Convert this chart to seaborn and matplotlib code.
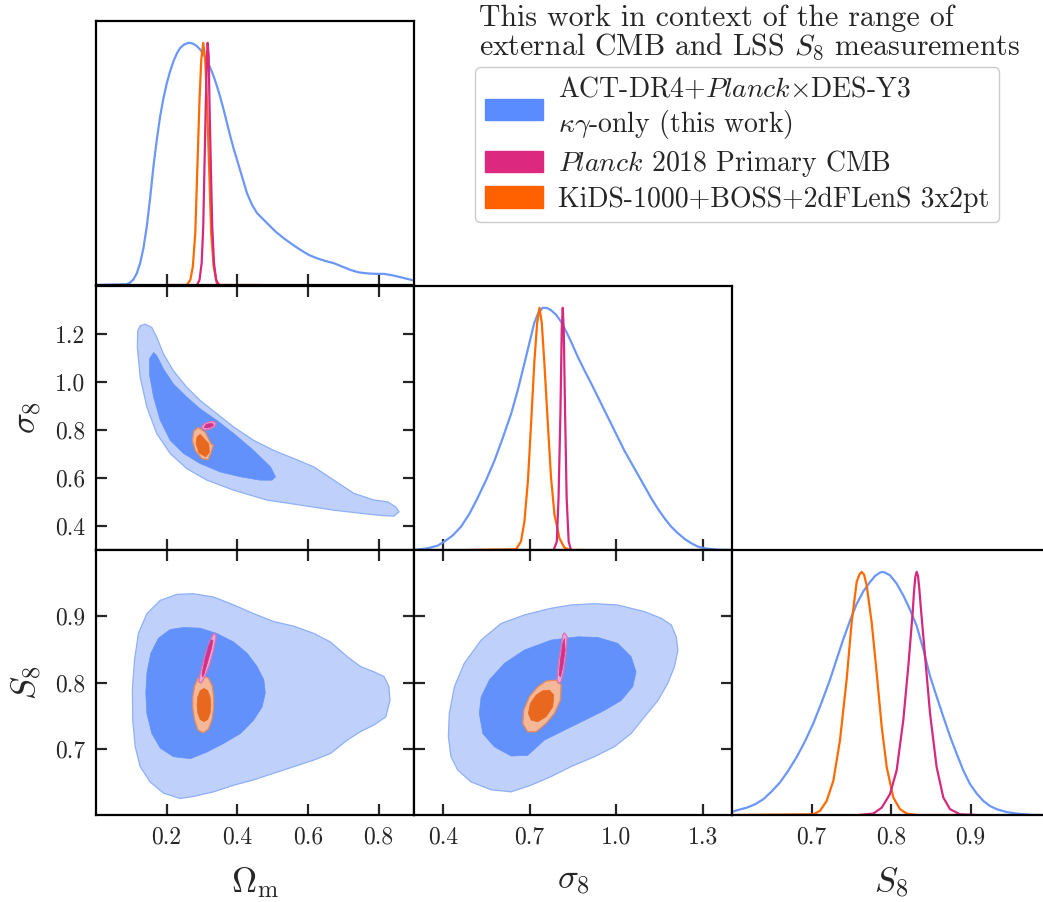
import numpy as np
import matplotlib
matplotlib.use("Agg")
import matplotlib.pyplot as plt
from matplotlib.patches import Patch
import seaborn as sns

# ---------------- 1D marginals (peak normalised to 1) ----------------
om_act_x = [0.0, 0.087, 0.0965, 0.1059, 0.1154, 0.1248, 0.1343, 0.1437, 0.1532, 0.1626, 0.1721,
            0.1816, 0.1910, 0.2005, 0.2099, 0.2194, 0.2288, 0.2383, 0.2496, 0.2619, 0.2742,
            0.2856, 0.2950, 0.3045, 0.3139, 0.3234, 0.3329, 0.3423, 0.3518, 0.3612, 0.3707,
            0.3801, 0.3896, 0.3991, 0.4132, 0.4274, 0.4416, 0.4558, 0.4700, 0.4842, 0.5078,
            0.5314, 0.5551, 0.5787, 0.6024, 0.6260, 0.6496, 0.6733, 0.6969, 0.7206, 0.7442,
            0.7678, 0.7915, 0.8151, 0.8388, 0.8624, 0.8813, 0.9031]
om_act_p = [0.0, 0.003, 0.01, 0.023, 0.048, 0.09, 0.152, 0.241, 0.359, 0.49, 0.6,
            0.697, 0.772, 0.834, 0.883, 0.924, 0.956, 0.979, 0.993, 1.0, 0.997,
            0.986, 0.972, 0.952, 0.927, 0.897, 0.862, 0.821, 0.775, 0.724, 0.669,
            0.614, 0.563, 0.517, 0.448, 0.379, 0.331, 0.297, 0.276, 0.255, 0.221,
            0.193, 0.168, 0.145, 0.124, 0.11, 0.099, 0.09, 0.076, 0.062, 0.052,
            0.048, 0.046, 0.046, 0.04, 0.032, 0.025, 0.018]
om_kids_x = [0.2, 0.257, 0.267, 0.274, 0.281, 0.287, 0.293, 0.298, 0.3035, 0.309, 0.314, 0.320,
             0.326, 0.333, 0.342, 0.352, 0.465]
om_kids_p = [0.0, 0.0, 0.021, 0.076, 0.214, 0.49, 0.766, 0.931, 1.0, 0.931, 0.766, 0.49,
             0.214, 0.076, 0.007, 0.0, 0.0]
om_planck_x = [0.286, 0.293, 0.299, 0.3035, 0.307, 0.311, 0.314, 0.316, 0.319, 0.321, 0.325,
               0.329, 0.334, 0.340, 0.348]
om_planck_p = [0.0, 0.021, 0.09, 0.241, 0.49, 0.766, 0.945, 1.0, 0.945, 0.766, 0.49,
               0.241, 0.09, 0.021, 0.0]

s8_act_x = [0.301, 0.347, 0.382, 0.405, 0.434, 0.463, 0.492, 0.520, 0.549, 0.578, 0.607, 0.636,
            0.659, 0.682, 0.699, 0.716, 0.730, 0.745, 0.760, 0.774, 0.791, 0.808, 0.826, 0.843,
            0.866, 0.889, 0.913, 0.936, 0.959, 0.982, 1.005, 1.028, 1.051, 1.074, 1.097, 1.120,
            1.143, 1.166, 1.189, 1.213, 1.236, 1.259, 1.282, 1.305, 1.351, 1.397]
s8_act_p = [0.0, 0.007, 0.018, 0.035, 0.06, 0.097, 0.15, 0.215, 0.2875, 0.368, 0.4625, 0.5625,
            0.66, 0.771, 0.854, 0.9375, 0.979, 1.0, 0.999, 0.99, 0.972, 0.944, 0.903, 0.861,
            0.799, 0.743, 0.6875, 0.632, 0.576, 0.521, 0.465, 0.41, 0.361, 0.3125, 0.264, 0.215,
            0.171, 0.132, 0.097, 0.069, 0.046, 0.028, 0.014, 0.007, 0.001, 0.0]
s8_kids_x = [0.48, 0.653, 0.670, 0.682, 0.694, 0.705, 0.716, 0.726, 0.734, 0.742, 0.751, 0.763,
             0.774, 0.786, 0.803, 0.820, 0.838, 0.889]
s8_kids_p = [0.0, 0.003, 0.035, 0.118, 0.285, 0.521, 0.771, 0.938, 1.0, 0.938, 0.771, 0.521,
             0.299, 0.146, 0.049, 0.01, 0.0, 0.0]
s8_planck_x = [0.783, 0.794, 0.800, 0.8065, 0.811, 0.8146, 0.818, 0.8227, 0.828, 0.835, 0.843]
s8_planck_p = [0.0, 0.035, 0.215, 0.563, 0.91, 1.0, 0.91, 0.563, 0.215, 0.035, 0.0]

S8_act_x = [0.6, 0.608, 0.6185, 0.629, 0.6394, 0.6499, 0.6604, 0.6709, 0.6813, 0.6918, 0.7023,
            0.7128, 0.7233, 0.7316, 0.7400, 0.7484, 0.7568, 0.7652, 0.7736, 0.7799, 0.7862,
            0.7893, 0.7925, 0.7987, 0.8071, 0.8155, 0.8239, 0.8323, 0.8407, 0.8491, 0.8574,
            0.8658, 0.8742, 0.8826, 0.891, 0.8994, 0.9077, 0.9161, 0.9245, 0.9329, 0.9455,
            0.9581, 0.9748, 0.9912]
S8_act_p = [0.013, 0.021, 0.030, 0.044, 0.065, 0.097, 0.134, 0.183, 0.238, 0.303, 0.377,
            0.464, 0.557, 0.64, 0.723, 0.799, 0.868, 0.92, 0.958, 0.983, 0.997,
            1.0, 0.997, 0.986, 0.952, 0.903, 0.845, 0.778, 0.681, 0.571, 0.4875,
            0.404, 0.324, 0.252, 0.183, 0.127, 0.089, 0.058, 0.037, 0.024, 0.012,
            0.006, 0.001, 0.0]
S8_kids_x = [0.6, 0.7023, 0.7107, 0.7191, 0.7275, 0.7358, 0.7442, 0.7505, 0.7568, 0.7602, 0.7631,
             0.7661, 0.7694, 0.7757, 0.7820, 0.7883, 0.7946, 0.8029, 0.8113, 0.8197, 0.8323, 0.891]
S8_kids_p = [0.0, 0.003, 0.017, 0.058, 0.141, 0.307, 0.557, 0.792, 0.958, 0.989, 1.0,
             0.989, 0.945, 0.792, 0.584, 0.363, 0.197, 0.072, 0.024, 0.006, 0.0, 0.0]
S8_planck_x = [0.7589, 0.7778, 0.7883, 0.7987, 0.8071, 0.8155, 0.8218, 0.8273, 0.8289, 0.8306,
               0.8323, 0.834, 0.8356, 0.8373, 0.8428, 0.8491, 0.8574, 0.8658, 0.8742, 0.8868, 0.9078]
S8_planck_p = [0.0, 0.006, 0.030, 0.086, 0.183, 0.391, 0.613, 0.834, 0.917, 0.979,
               1.0, 0.983, 0.931, 0.861, 0.654, 0.418, 0.197, 0.072, 0.024, 0.003, 0.0]

# ---------------- 2D credible regions (68% / 95% boundaries) ----------------
om_s8l_act_95 = [(0.139, 1.241), (0.158, 1.227), (0.172, 1.186), (0.191, 1.117), (0.219, 1.047),
                 (0.257, 0.978), (0.295, 0.923), (0.342, 0.868), (0.390, 0.812), (0.446, 0.757),
                 (0.503, 0.715), (0.560, 0.681), (0.617, 0.646), (0.673, 0.591), (0.730, 0.536),
                 (0.787, 0.508), (0.825, 0.501), (0.848, 0.480), (0.858, 0.459), (0.843, 0.441),
                 (0.806, 0.444), (0.749, 0.453), (0.673, 0.466), (0.579, 0.487), (0.484, 0.508),
                 (0.390, 0.549), (0.314, 0.591), (0.257, 0.639), (0.210, 0.702), (0.172, 0.785),
                 (0.144, 0.895), (0.125, 1.020), (0.117, 1.144), (0.118, 1.213), (0.125, 1.234)]
om_s8l_act_68 = [(0.163, 1.123), (0.172, 1.110), (0.191, 1.054), (0.219, 0.992), (0.257, 0.937),
                 (0.295, 0.888), (0.342, 0.840), (0.390, 0.785), (0.446, 0.715), (0.494, 0.646),
                 (0.508, 0.605), (0.498, 0.591), (0.465, 0.591), (0.409, 0.605), (0.352, 0.625),
                 (0.295, 0.660), (0.248, 0.702), (0.210, 0.757), (0.182, 0.840), (0.163, 0.937),
                 (0.151, 1.034), (0.151, 1.096)]
om_s8l_kids_95 = [(0.289, 0.810), (0.309, 0.791), (0.325, 0.743), (0.332, 0.736), (0.326, 0.708),
                  (0.317, 0.677), (0.300, 0.681), (0.281, 0.715), (0.273, 0.757), (0.277, 0.795)]
om_s8l_kids_68 = [(0.295, 0.782), (0.319, 0.743), (0.321, 0.708), (0.311, 0.688), (0.292, 0.704),
                  (0.283, 0.743), (0.286, 0.771)]
om_s8l_planck_95 = [(0.298, 0.810), (0.304, 0.823), (0.317, 0.833), (0.330, 0.836), (0.340, 0.829),
                    (0.336, 0.815), (0.323, 0.804), (0.309, 0.800)]
om_s8l_planck_68 = [(0.306, 0.812), (0.311, 0.822), (0.321, 0.827), (0.331, 0.826), (0.332, 0.819),
                    (0.324, 0.812), (0.314, 0.808)]

om_S8_act_95 = [(0.276, 0.934), (0.333, 0.929), (0.390, 0.917), (0.446, 0.904), (0.503, 0.892),
                (0.560, 0.885), (0.617, 0.874), (0.664, 0.861), (0.711, 0.839), (0.749, 0.824),
                (0.787, 0.816), (0.815, 0.809), (0.829, 0.794), (0.832, 0.773), (0.820, 0.748),
                (0.787, 0.736), (0.749, 0.726), (0.711, 0.713), (0.664, 0.693), (0.617, 0.683),
                (0.560, 0.673), (0.503, 0.663), (0.446, 0.653), (0.390, 0.645), (0.333, 0.635),
                (0.276, 0.628), (0.238, 0.625), (0.191, 0.633), (0.153, 0.650), (0.125, 0.673),
                (0.111, 0.703), (0.104, 0.743), (0.103, 0.789), (0.109, 0.834), (0.120, 0.874),
                (0.144, 0.904), (0.182, 0.924), (0.229, 0.933)]
om_S8_act_68 = [(0.248, 0.883), (0.295, 0.882), (0.342, 0.874), (0.390, 0.861), (0.428, 0.844),
                (0.456, 0.824), (0.475, 0.804), (0.479, 0.784), (0.470, 0.763), (0.446, 0.743),
                (0.409, 0.723), (0.361, 0.708), (0.314, 0.695), (0.267, 0.685), (0.219, 0.688),
                (0.182, 0.701), (0.158, 0.723), (0.144, 0.753), (0.141, 0.784), (0.144, 0.814),
                (0.155, 0.844), (0.177, 0.867), (0.210, 0.880)]
om_S8_kids_95 = [(0.3035, 0.8097), (0.318, 0.8066), (0.329, 0.7946), (0.333, 0.778), (0.333, 0.7614),
                 (0.328, 0.7435), (0.318, 0.7297), (0.3035, 0.7241), (0.289, 0.7282), (0.279, 0.7435),
                 (0.274, 0.7614), (0.274, 0.778), (0.279, 0.7946), (0.289, 0.8066)]
om_S8_kids_68 = [(0.3055, 0.791), (0.316, 0.7878), (0.323, 0.778), (0.325, 0.766), (0.323, 0.754),
                 (0.316, 0.744), (0.3055, 0.741), (0.295, 0.744), (0.288, 0.754), (0.286, 0.766),
                 (0.288, 0.778), (0.295, 0.7878)]
om_S8_planck_95 = [(0.336, 0.875), (0.340, 0.869), (0.333, 0.849), (0.321, 0.826), (0.306, 0.806),
                   (0.297, 0.799), (0.291, 0.801), (0.295, 0.814), (0.306, 0.836), (0.320, 0.859),
                   (0.330, 0.871)]
om_S8_planck_68 = [(0.331, 0.864), (0.327, 0.852), (0.316, 0.831), (0.306, 0.813), (0.302, 0.808),
                   (0.300, 0.813), (0.308, 0.834), (0.319, 0.855), (0.326, 0.864)]

s8_S8_act_95 = [(0.924, 0.919), (1.005, 0.917), (1.097, 0.907), (1.155, 0.897), (1.190, 0.887),
                (1.207, 0.869), (1.213, 0.849), (1.201, 0.824), (1.178, 0.799), (1.144, 0.773),
                (1.097, 0.748), (1.051, 0.723), (0.993, 0.703), (0.924, 0.688), (0.843, 0.673),
                (0.774, 0.658), (0.705, 0.645), (0.636, 0.635), (0.567, 0.638), (0.497, 0.650),
                (0.451, 0.668), (0.428, 0.688), (0.419, 0.718), (0.422, 0.753), (0.440, 0.794),
                (0.474, 0.829), (0.532, 0.864), (0.601, 0.889), (0.682, 0.902), (0.774, 0.912),
                (0.843, 0.917)]
s8_S8_act_68 = [(0.867, 0.869), (0.936, 0.868), (1.005, 0.859), (1.051, 0.839), (1.068, 0.816),
                (1.057, 0.794), (1.017, 0.773), (0.959, 0.758), (0.890, 0.743), (0.820, 0.728),
                (0.751, 0.713), (0.693, 0.690), (0.636, 0.689), (0.578, 0.703), (0.538, 0.723),
                (0.526, 0.753), (0.532, 0.778), (0.561, 0.804), (0.613, 0.829), (0.682, 0.849),
                (0.774, 0.864)]
s8_S8_kids_95 = [(0.7915, 0.8036), (0.8088, 0.7961), (0.8064, 0.7735), (0.7856, 0.7534),
                 (0.7569, 0.7383), (0.7223, 0.7256), (0.6936, 0.7256), (0.6763, 0.7383),
                 (0.6797, 0.7584), (0.6991, 0.7784), (0.7282, 0.7935), (0.7569, 0.8021)]
s8_S8_kids_68 = [(0.7683, 0.7885), (0.7836, 0.781), (0.7801, 0.7634), (0.7569, 0.7483),
                 (0.7282, 0.7407), (0.705, 0.7433), (0.6956, 0.7534), (0.7026, 0.7685),
                 (0.7223, 0.781), (0.7455, 0.7875)]
s8_S8_planck_95 = [(0.8203, 0.875), (0.8296, 0.8689), (0.8261, 0.8439), (0.8182, 0.8187),
                   (0.8088, 0.8011), (0.7995, 0.7986), (0.795, 0.8036), (0.7995, 0.8288),
                   (0.8088, 0.8538), (0.8147, 0.8715)]
s8_S8_planck_68 = [(0.8203, 0.8665), (0.8227, 0.8489), (0.8147, 0.8237), (0.8064, 0.8086),
                   (0.8019, 0.8112), (0.8064, 0.8338), (0.8147, 0.859)]

om_ticks = [0.2, 0.4, 0.6, 0.8]
s8_ticks = [0.4, 0.7, 1.0, 1.3]
s8_yticks = [0.4, 0.6, 0.8, 1.0, 1.2]
S8_ticks = [0.7, 0.8, 0.9]
om_lim = (0.0, 0.9)
s8_lim = (0.3, 1.4)
S8_lim = (0.6, 1.0)

labels = ["ACT-DR4+$\\mathit{Planck}$$\\times$DES-Y3\n$\\kappa\\gamma$-only (this work)",
          "$\\mathit{Planck}$ 2018 Primary CMB",
          "KiDS-1000+BOSS+2dFLenS 3x2pt"]

# ---------------- style ----------------
sns.set_theme(style="ticks")
plt.rcParams["font.family"] = ["cmr10", "DejaVu Serif"]
plt.rcParams["mathtext.fontset"] = "cm"
plt.rcParams["axes.formatter.use_mathtext"] = True
plt.rcParams["axes.unicode_minus"] = False

c_line = {"act": "#6b97f7", "planck": "#d6287f", "kids": "#ff6a00"}
c_fill = {"act": ("#bfd0fb", "#6391fb", "#8fb0f8"),
          "planck": ("#f0a6d2", "#d1308c", "#e070b0"),
          "kids": ("#f4b899", "#e8681f", "#ec8a55")}

W, H = 1043, 902
fig = plt.figure(figsize=(W / 100, H / 100), dpi=100)

col_x = [96, 414, 732]
row_y = [(21, 285), (286, 550), (550, 815)]
pw = 318


def make_ax(r, c):
    y0, y1 = row_y[r]
    return fig.add_axes([col_x[c] / W, 1 - y1 / H, pw / W, (y1 - y0) / H])


def style(ax, diag=False):
    for s in ax.spines.values():
        s.set_linewidth(1.6)
        s.set_color("black")
    if diag:
        ax.tick_params(axis="x", direction="in", length=8, width=1.6, top=False, bottom=True,
                       labelsize=17, pad=8)
        ax.tick_params(axis="y", left=False, right=False, labelleft=False)
        ax.set_ylim(0, 1.09)
    else:
        ax.tick_params(direction="in", length=8, width=1.6, top=True, bottom=True,
                       left=True, right=True, labelsize=17, pad=8)
    ax.set_xlabel("")
    ax.set_ylabel("")


def marg(ax, xs, ps, key):
    sns.lineplot(x=xs, y=ps, ax=ax, color=c_line[key], lw=1.6, estimator=None, sort=False)


def region(ax, pts95, pts68, key):
    light, dark, edge = c_fill[key]
    a = np.array(pts95)
    b = np.array(pts68)
    ax.fill(a[:, 0], a[:, 1], facecolor=light, edgecolor=edge, lw=0.9)
    ax.fill(b[:, 0], b[:, 1], facecolor=dark, edgecolor=dark, lw=0.5)


# diagonal: Omega_m
ax00 = make_ax(0, 0)
marg(ax00, om_act_x, om_act_p, "act")
marg(ax00, om_kids_x, om_kids_p, "kids")
marg(ax00, om_planck_x, om_planck_p, "planck")
style(ax00, diag=True)
ax00.set_xlim(*om_lim)
ax00.set_xticks(om_ticks)
ax00.tick_params(labelbottom=False)

# Omega_m - sigma_8
ax10 = make_ax(1, 0)
region(ax10, om_s8l_act_95, om_s8l_act_68, "act")
region(ax10, om_s8l_kids_95, om_s8l_kids_68, "kids")
region(ax10, om_s8l_planck_95, om_s8l_planck_68, "planck")
style(ax10)
ax10.set_xlim(*om_lim)
ax10.set_ylim(*s8_lim)
ax10.set_xticks(om_ticks)
ax10.set_yticks(s8_yticks)
ax10.set_yticklabels([f"{v:.1f}" for v in s8_yticks])
ax10.tick_params(labelbottom=False)
ax10.set_ylabel(r"$\sigma_8$", fontsize=25)
ax10.yaxis.set_label_coords(-0.165, 0.5)

# diagonal: sigma_8
ax11 = make_ax(1, 1)
marg(ax11, s8_act_x, s8_act_p, "act")
marg(ax11, s8_kids_x, s8_kids_p, "kids")
marg(ax11, s8_planck_x, s8_planck_p, "planck")
style(ax11, diag=True)
ax11.set_xlim(*s8_lim)
ax11.set_xticks(s8_ticks)
ax11.tick_params(labelbottom=False)

# Omega_m - S_8
ax20 = make_ax(2, 0)
region(ax20, om_S8_act_95, om_S8_act_68, "act")
region(ax20, om_S8_kids_95, om_S8_kids_68, "kids")
region(ax20, om_S8_planck_95, om_S8_planck_68, "planck")
style(ax20)
ax20.set_xlim(*om_lim)
ax20.set_ylim(*S8_lim)
ax20.set_xticks(om_ticks)
ax20.set_xticklabels([f"{v:.1f}" for v in om_ticks])
ax20.set_yticks(S8_ticks)
ax20.set_yticklabels([f"{v:.1f}" for v in S8_ticks])
ax20.set_xlabel(r"$\Omega_{\rm m}$", fontsize=25)
ax20.set_ylabel(r"$S_8$", fontsize=25)
ax20.xaxis.set_label_coords(0.5, -0.19)
ax20.yaxis.set_label_coords(-0.165, 0.5)

# sigma_8 - S_8
ax21 = make_ax(2, 1)
region(ax21, s8_S8_act_95, s8_S8_act_68, "act")
region(ax21, s8_S8_kids_95, s8_S8_kids_68, "kids")
region(ax21, s8_S8_planck_95, s8_S8_planck_68, "planck")
style(ax21)
ax21.set_xlim(*s8_lim)
ax21.set_ylim(*S8_lim)
ax21.set_xticks(s8_ticks)
ax21.set_xticklabels([f"{v:.1f}" for v in s8_ticks])
ax21.set_yticks(S8_ticks)
ax21.tick_params(labelleft=False)
ax21.set_xlabel(r"$\sigma_8$", fontsize=25)
ax21.xaxis.set_label_coords(0.5, -0.19)

# diagonal: S_8
ax22 = make_ax(2, 2)
marg(ax22, S8_act_x, S8_act_p, "act")
marg(ax22, S8_kids_x, S8_kids_p, "kids")
marg(ax22, S8_planck_x, S8_planck_p, "planck")
style(ax22, diag=True)
ax22.set_xlim(*S8_lim)
ax22.set_xticks(S8_ticks)
ax22.set_xticklabels([f"{v:.1f}" for v in S8_ticks])
ax22.set_xlabel(r"$S_8$", fontsize=25)
ax22.xaxis.set_label_coords(0.5, -0.19)

# legend + heading
fig.text(479 / W, 1 - 5 / H,
         "This work in context of the range of\nexternal CMB and LSS $S_8$ measurements",
         fontsize=21.5, ha="left", va="top", linespacing=0.95)
handles = [Patch(facecolor="#5b8cff", edgecolor="#5b8cff"),
           Patch(facecolor="#dc287f", edgecolor="#dc287f"),
           Patch(facecolor="#ff6000", edgecolor="#ff6000")]
fig.legend(handles, labels, loc="upper left", bbox_to_anchor=(475 / W, 1 - 67 / H),
           fontsize=20, frameon=True, fancybox=True, edgecolor="0.8", framealpha=1,
           handlelength=2.1, handleheight=0.8, handletextpad=0.55, labelspacing=0.25,
           borderpad=0.35, borderaxespad=0)

fig.savefig("out.png", dpi=100)
